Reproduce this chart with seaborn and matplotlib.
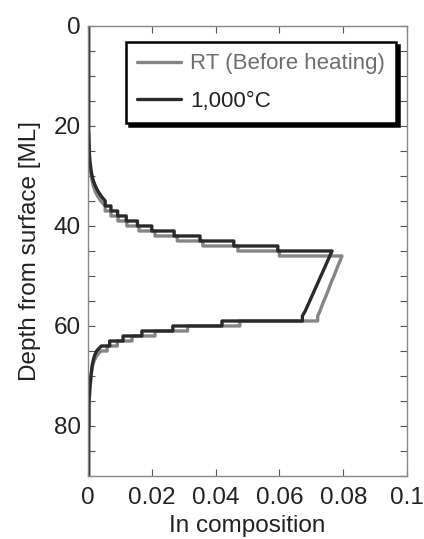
import numpy as np
import pandas as pd
import matplotlib
matplotlib.use("Agg")
import matplotlib.pyplot as plt
import seaborn as sns

# layer index (ML) and In composition per layer
layers = list(range(90))

comp_rt = [
    0.0002, 0.0002, 0.0002, 0.0002, 0.0002, 0.0002, 0.0002, 0.0002, 0.0002, 0.0002,
    0.0002, 0.0002, 0.0002, 0.0002, 0.0002, 0.0002, 0.0002, 0.0002, 0.0002, 0.0002,
    0.0002, 0.0002, 0.0002, 0.0003, 0.0003, 0.0004, 0.0004, 0.0005, 0.0006, 0.0008,
    0.0010, 0.0013, 0.0017, 0.0022, 0.0030, 0.0040, 0.0054, 0.0072, 0.0094, 0.0122,
    0.0160, 0.0210, 0.0280, 0.0360, 0.0470, 0.0600, 0.0796, 0.0790, 0.0783, 0.0777,
    0.0771, 0.0764, 0.0758, 0.0752, 0.0746, 0.0739, 0.0733, 0.0727, 0.0720, 0.0476,
    0.0312, 0.0210, 0.0138, 0.0092, 0.0060, 0.0040, 0.0027, 0.0019, 0.0014, 0.0012,
    0.0010, 0.0008, 0.0007, 0.0006, 0.0005, 0.0004, 0.0003, 0.0003, 0.0003, 0.0003,
    0.0003, 0.0002, 0.0002, 0.0002, 0.0002, 0.0002, 0.0002, 0.0002, 0.0002, 0.0002,
]

comp_1000 = [
    0.0002, 0.0002, 0.0002, 0.0002, 0.0002, 0.0002, 0.0002, 0.0002, 0.0002, 0.0002,
    0.0002, 0.0002, 0.0002, 0.0002, 0.0002, 0.0002, 0.0002, 0.0002, 0.0002, 0.0002,
    0.0002, 0.0002, 0.0003, 0.0003, 0.0004, 0.0004, 0.0005, 0.0006, 0.0008, 0.0010,
    0.0013, 0.0017, 0.0023, 0.0031, 0.0041, 0.0054, 0.0072, 0.0093, 0.0120, 0.0155,
    0.0200, 0.0270, 0.0351, 0.0457, 0.0595, 0.0765, 0.0758, 0.0751, 0.0744, 0.0737,
    0.0730, 0.0723, 0.0716, 0.0709, 0.0702, 0.0695, 0.0688, 0.0681, 0.0672, 0.0420,
    0.0266, 0.0169, 0.0110, 0.0068, 0.0042, 0.0027, 0.0020, 0.0016, 0.0013, 0.0011,
    0.0009, 0.0008, 0.0006, 0.0005, 0.0004, 0.0003, 0.0003, 0.0003, 0.0003, 0.0003,
    0.0003, 0.0002, 0.0002, 0.0002, 0.0002, 0.0002, 0.0002, 0.0002, 0.0002, 0.0002,
]

series_names = ["RT (Before heating)", "1,000\u00b0C"]
series_colors = ["#858585", "#2a2a2a"]


def staircase(vals, name):
    # one step per layer; where neighbouring layers barely differ the
    # line runs straight through, as in the original plot
    depth, comp = [], []
    n = len(vals)
    for i in range(n):
        depth.append(layers[i])
        comp.append(vals[i])
        if i == n - 1 or abs(vals[i + 1] - vals[i]) >= 0.0015:
            depth.append(layers[i] + 1)
            comp.append(vals[i])
    return pd.DataFrame({"depth": depth, "comp": comp, "series": name})


sns.set_theme(style="ticks")
plt.rcParams["font.family"] = ["Liberation Sans", "DejaVu Sans"]
plt.rcParams["font.size"] = 17.5

fig = plt.figure(figsize=(4.24, 5.39), dpi=100)
ax = fig.add_axes([0.2075, 0.1169, 0.7525, 0.8349])

for vals, name, col in zip([comp_rt, comp_1000], series_names, series_colors):
    df = staircase(vals, name)
    sns.lineplot(data=df, x="comp", y="depth", orient="y", sort=False,
                 estimator=None, color=col, lw=2.4, label=name, ax=ax)

ax.set_xlim(0, 0.1)
ax.set_ylim(90, 0)
ax.set_xticks([0, 0.02, 0.04, 0.06, 0.08, 0.1])
ax.set_xticklabels(["0", "0.02", "0.04", "0.06", "0.08", "0.1"])
ax.set_yticks([0, 20, 40, 60, 80])
ax.set_yticks(np.arange(0, 91, 5), minor=True)
ax.tick_params(which="both", direction="in", top=True, right=True,
               length=5, width=0.8, color="#555555", labelsize=17.5,
               labelcolor="#222222")
ax.tick_params(axis="x", pad=8)
ax.tick_params(axis="y", pad=5)
for s in ax.spines.values():
    s.set_color("#888888")
    s.set_linewidth(1.0)

ax.set_xlabel("In composition", fontsize=17.5, color="#222222", labelpad=4)
ax.set_ylabel("Depth from surface [ML]", fontsize=17.5, color="#222222", labelpad=9)

leg = ax.legend(loc="upper right", bbox_to_anchor=(0.966, 0.964),
                borderaxespad=0, fontsize=16, handlelength=2.0,
                handletextpad=0.4, labelspacing=0.75, borderpad=0.5,
                fancybox=False, shadow={"color": "black", "alpha": 1.0})
leg.get_frame().set_edgecolor("black")
leg.get_frame().set_linewidth(1.8)
leg.get_frame().set_alpha(1.0)
for t, col in zip(leg.get_texts(), ["#6e6e6e", "#222222"]):
    t.set_color(col)

fig.savefig("out.png", dpi=100)
